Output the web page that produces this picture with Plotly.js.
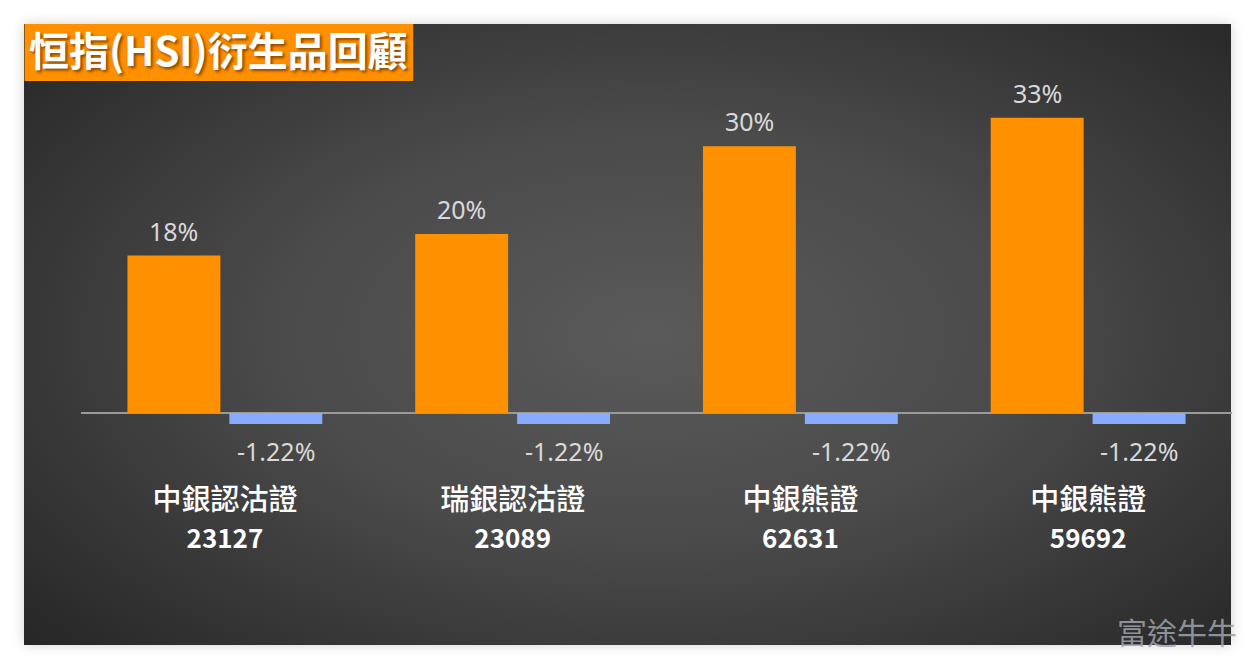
<!DOCTYPE html>
<html>
<head>
<meta charset="utf-8">
<script src="https://cdn.plot.ly/plotly-3.0.1.min.js"></script>
<style>
html,body{margin:0;padding:0;background:#ffffff;width:1255px;height:669px;overflow:hidden;}
#panel{position:absolute;left:24px;top:24px;width:1207px;height:621px;
 background:radial-gradient(ellipse 70% 75% at 52% 50%, #5a5a5a 0%, #4a4a4a 45%, #333333 80%, #262626 100%);
 box-shadow:0 0 12px rgba(0,0,0,0.18);}
#chart{position:absolute;left:0;top:0;width:1255px;height:669px;}
</style>
</head>
<body>
<div id="panel"></div>
<div id="chart"></div>
<script>
// ---- data ----
const names = ["中銀認沽證", "瑞銀認沽證", "中銀熊證", "中銀熊證"];
const codes = ["23127", "23089", "62631", "59692"];
const orangeValues = [17.6, 20, 29.8, 33];
const orangeLabels = ["18%", "20%", "30%", "33%"];
const blueValues = [-1.22, -1.22, -1.22, -1.22];
const blueLabels = ["-1.22%", "-1.22%", "-1.22%", "-1.22%"];
const titleText = "恒指(HSI)衍生品回顧";
const watermark = "富途牛牛";

const categories = names.map((n, i) => n + "<br><span style=\"font-size:26px\"><b>" + codes[i] + "</b></span>");

const traces = [
  {type: "bar", x: categories, y: orangeValues, marker: {color: "#FF9000"}, hoverinfo: "skip"},
  {type: "bar", x: categories, y: blueValues, marker: {color: "#87ABFF"}, hoverinfo: "skip"}
];

const annotations = [];
categories.forEach((c, i) => {
  annotations.push({x: c, y: orangeValues[i], xref: "x", yref: "y", text: orangeLabels[i],
    showarrow: false, xshift: -51, yanchor: "bottom", yshift: 6,
    font: {family: "Noto Sans, sans-serif", size: 25, color: "#d9d9d9"}});
  annotations.push({x: c, y: blueValues[i], xref: "x", yref: "y", text: blueLabels[i],
    showarrow: false, xshift: 51, yanchor: "top", yshift: -8,
    font: {family: "Noto Sans, sans-serif", size: 25, color: "#d9d9d9"}});
});
annotations.push({xref: "paper", yref: "paper", x: (1240-80.5)/1152, y: (478-631)/397, xanchor: "right", yanchor: "middle",
  text: watermark, showarrow: false,
  font: {family: "Noto Sans CJK TC, sans-serif", size: 30, color: "rgba(160,165,172,0.85)"}});

const layout = {
  width: 1255, height: 669,
  paper_bgcolor: "rgba(0,0,0,0)", plot_bgcolor: "rgba(0,0,0,0)",
  margin: {l: 80.5, r: 22.5, t: 81, b: 191},
  barmode: "group", bargap: 0.2917, bargroupgap: 0.088,
  showlegend: false,
  title: {text: titleText, x: 29/1255, xanchor: "left", xref: "container",
    y: 1 - 52/669, yanchor: "middle", yref: "container",
    font: {family: "Noto Sans CJK TC, sans-serif", size: 40, color: "#ffffff", weight: "bold",
      shadow: "2px 2px 3px rgba(90,40,0,0.7)"}},
  xaxis: {type: "category", showgrid: false, showline: false, zeroline: false, ticks: "",
    tickfont: {family: "Noto Sans CJK TC, sans-serif", size: 29, color: "#ffffff", weight: 500},
    ticklabelstandoff: 2, fixedrange: true},
  yaxis: {range: [-7.26, 37.1], showgrid: false, showticklabels: false, ticks: "",
    zeroline: true, zerolinecolor: "#9a9a9a", zerolinewidth: 2, fixedrange: true},
  shapes: [{type: "rect", xref: "paper", yref: "paper", x0: (24-80.5)/1152, x1: (413-80.5)/1152,
    y0: 1, y1: 1 + 57/397, fillcolor: "#FF9000", line: {width: 0}, layer: "below"}],
  annotations: annotations
};

Plotly.newPlot("chart", traces, layout, {displayModeBar: false, staticPlot: true});
</script>
</body>
</html>
